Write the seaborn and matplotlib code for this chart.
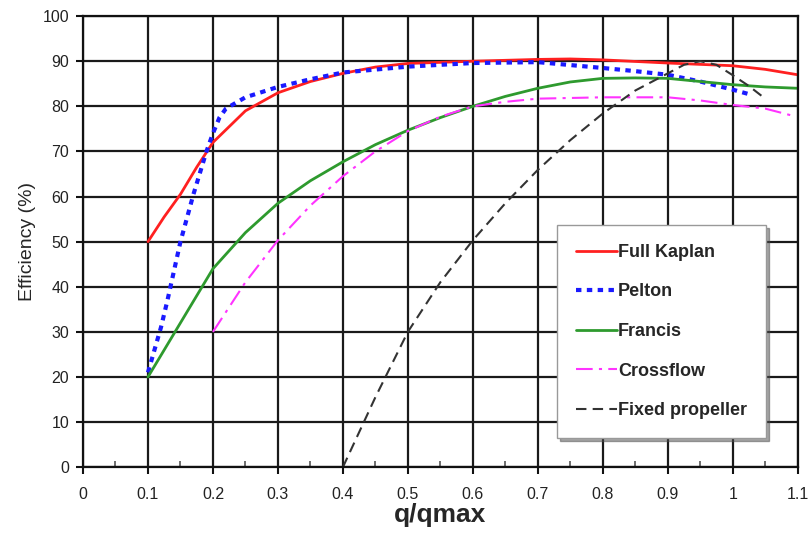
import matplotlib
matplotlib.use("Agg")
import matplotlib.pyplot as plt
import seaborn as sns

# values
kaplan_q = [0.1, 0.125, 0.15, 0.175, 0.2, 0.25, 0.3, 0.35, 0.4, 0.45, 0.5, 0.6, 0.7, 0.75, 0.8, 0.9, 0.95, 1.0, 1.05, 1.1]
kaplan_eff = [50, 55.5, 60.5, 66.5, 72, 79, 83, 85.5, 87.3, 88.7, 89.5, 90, 90.4, 90.5, 90.3, 89.6, 89.3, 89, 88.2, 87]

pelton_q = [0.1, 0.11, 0.12, 0.13, 0.15, 0.17, 0.19, 0.2, 0.21, 0.22, 0.25, 0.3, 0.35, 0.4, 0.5, 0.6, 0.7, 0.8, 0.85, 0.9, 0.95, 1.0, 1.03]
pelton_eff = [21, 26, 31, 37, 50, 60.5, 70, 74, 77.5, 79.5, 82, 84.3, 86, 87.5, 88.8, 89.6, 89.8, 88.5, 87.8, 87, 85.5, 83.7, 82.5]

francis_q = [0.1, 0.15, 0.2, 0.25, 0.3, 0.35, 0.4, 0.45, 0.5, 0.55, 0.6, 0.65, 0.7, 0.75, 0.8, 0.85, 0.9, 0.95, 1.0, 1.05, 1.1]
francis_eff = [20, 32, 44, 52, 58.5, 63.5, 67.7, 71.5, 74.7, 77.5, 80, 82.2, 84, 85.4, 86.2, 86.3, 86.2, 85.5, 84.8, 84.3, 84]

crossflow_q = [0.2, 0.25, 0.3, 0.35, 0.4, 0.45, 0.5, 0.55, 0.6, 0.65, 0.7, 0.8, 0.9, 0.95, 1.0, 1.05, 1.09]
crossflow_eff = [30, 41, 50.3, 58, 64.5, 70, 74.5, 77.7, 80, 81, 81.7, 82, 82, 81.3, 80.3, 79.5, 78]

propeller_q = [0.4, 0.45, 0.5, 0.55, 0.6, 0.65, 0.7, 0.75, 0.8, 0.85, 0.9, 0.925, 0.95, 0.975, 1.0, 1.025, 1.05]
propeller_eff = [0, 15.5, 30, 41, 50.3, 58.5, 65.9, 72.5, 78.4, 83.5, 87.3, 89.2, 90, 89.2, 86.9, 84.5, 81.7]

x_ticks = [0, 0.1, 0.2, 0.3, 0.4, 0.5, 0.6, 0.7, 0.8, 0.9, 1.0, 1.1]
x_labels = ["0", "0.1", "0.2", "0.3", "0.4", "0.5", "0.6", "0.7", "0.8", "0.9", "1", "1.1"]
x_minor = [0.05, 0.15, 0.25, 0.35, 0.45, 0.55, 0.65, 0.75, 0.85, 0.95, 1.05]
y_ticks = [0, 10, 20, 30, 40, 50, 60, 70, 80, 90, 100]

sns.set_theme(style="ticks")
plt.rcParams["font.family"] = ["Liberation Sans", "DejaVu Sans"]

fig, ax = plt.subplots(figsize=(8.09, 5.37), dpi=100)
fig.subplots_adjust(left=0.1026, right=0.986, top=0.970, bottom=0.130)

# series: (q, eff, label, color, width, dash pattern)
series = [
    (kaplan_q, kaplan_eff, "Full Kaplan", "#ff2020", 2.0, None),
    (pelton_q, pelton_eff, "Pelton", "#1a1aff", 3.0, (1.3, 1.3)),
    (francis_q, francis_eff, "Francis", "#2e9a2e", 2.0, None),
    (crossflow_q, crossflow_eff, "Crossflow", "#ff33ff", 1.5, (8, 3, 1.5, 3)),
    (propeller_q, propeller_eff, "Fixed propeller", "#333333", 1.5, (5, 3)),
]
for q, eff, label, color, lw, dashes in series:
    sns.lineplot(x=q, y=eff, ax=ax, color=color, linewidth=lw, label=label, sort=False)
    if dashes is not None:
        ax.lines[-1].set_dashes(dashes)

ax.set_xlim(0, 1.1)
ax.set_ylim(0, 100)
ax.set_xticks(x_ticks, x_labels)
ax.set_xticks(x_minor, minor=True)
ax.set_yticks(y_ticks)
ax.grid(which="major", color="#1a1a1a", linewidth=1.6)
ax.set_axisbelow(True)
for s in ax.spines.values():
    s.set_color("#111111")
    s.set_linewidth(1.6)
ax.tick_params(axis="both", which="major", labelsize=11.5, length=5, width=1.5, colors="#111111", pad=5)
ax.tick_params(axis="x", which="minor", direction="in", length=4, width=1.2, colors="#555555")
ax.tick_params(axis="x", which="major", pad=9)
for t in ax.get_xticklabels() + ax.get_yticklabels():
    t.set_color("#222222")

ax.set_xlabel("q/qmax", fontsize=19, fontweight="bold", labelpad=1)
ax.set_ylabel("Efficiency (%)", fontsize=14, labelpad=5)

leg = ax.legend(loc="upper left", bbox_to_anchor=(0.663, 0.537), frameon=True, shadow=True,
                fancybox=False, handlelength=2.3, handletextpad=0.05, labelspacing=1.25,
                borderpad=1.05, borderaxespad=0, prop={"size": 13, "weight": "bold"})
leg.get_frame().set_edgecolor("#999999")
leg.get_frame().set_linewidth(1.0)

fig.savefig("out.png", dpi=100)
